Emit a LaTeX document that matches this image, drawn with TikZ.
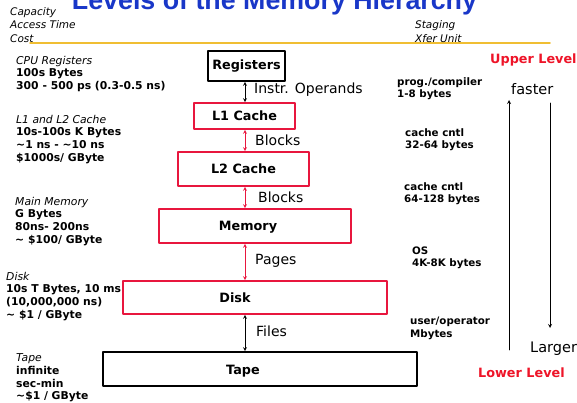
\documentclass[tikz,border=0pt]{standalone}
\usepackage{fontspec}
\setmainfont{DejaVu Sans}
\newfontfamily\titlefont{Liberation Sans}
\definecolor{boxred}{RGB}{232,22,62}
\definecolor{lvlred}{RGB}{238,20,40}
\definecolor{rulegold}{RGB}{240,190,50}
\definecolor{titleblue}{RGB}{25,55,200}
\begin{document}
\begin{tikzpicture}[line cap=round,line join=round,>=stealth,x=1pt,y=-1pt,
    lvlbox/.style={draw,line width=1.6pt,inner sep=0pt},
    boxtxt/.style={font=\fontsize{12.8}{14}\selectfont\bfseries},
    head/.style={anchor=north west,align=left,inner sep=0pt,font=\fontsize{10.5}{13.5}\selectfont\itshape},
    cost/.style={anchor=north west,align=left,inner sep=0pt,font=\fontsize{10.8}{12.6}\selectfont\bfseries},
    xfer/.style={anchor=north west,align=left,inner sep=0pt,font=\fontsize{10.3}{12.4}\selectfont\bfseries},
    link/.style={anchor=base west,inner sep=0pt,font=\fontsize{14}{16}\selectfont},
    lvl/.style={anchor=base west,inner sep=0pt,text=lvlred,font=\fontsize{12.8}{14}\selectfont\bfseries},
    arr/.style={<->,line width=0.8pt}]
  \useasboundingbox (0,0) rectangle (577,403);

  \node[anchor=base,inner sep=0pt,text=titleblue,font=\titlefont\bfseries\fontsize{26.8}{30}\selectfont] (title) at (274.5,10) {Levels of the Memory Hierarchy};
  \draw[rulegold,line width=1.8pt] (30,43.3) -- (550,43.3);
  \node[head] (colleft) at (10,7) {Capacity\\Access Time\\Cost};
  \node[head] (colright) at (415,20.5) {Staging\\Xfer Unit};

  % the levels
  \node[lvlbox,minimum width=77,minimum height=30,boxtxt] (regs) at (246.5,66) {Registers};
  \node[lvlbox,draw=boxred,minimum width=101,minimum height=26,boxtxt] (l1) at (244.5,116) {L1 Cache};
  \node[lvlbox,draw=boxred,minimum width=131,minimum height=34,boxtxt] (l2) at (243.5,169) {L2 Cache};
  \node[lvlbox,draw=boxred,minimum width=192,minimum height=34,label={[boxtxt,xshift=-7,yshift=-1.5]center:Memory}] (mem) at (255,226) {};
  \node[lvlbox,draw=boxred,minimum width=264,minimum height=33,label={[boxtxt,xshift=-20]center:Disk}] (disk) at (255,297.5) {};
  \node[lvlbox,minimum width=314,minimum height=34,label={[boxtxt,xshift=-17,yshift=-2]center:Tape}] (tape) at (260,369) {};

  \coordinate (spine) at (245,0);
  \draw[arr] (regs.south -| spine) -- (l1.north -| spine);
  \draw[arr,boxred] (l1.south -| spine) -- (l2.north -| spine);
  \draw[arr,boxred] (l2.south -| spine) -- (mem.north -| spine);
  \draw[arr,boxred] (mem.south -| spine) -- (disk.north -| spine);
  \draw[arr] (disk.south -| spine) -- (tape.north -| spine);

  \node[link] (opnd) at (254,94) {Instr. Operands};
  \node[link] (blk1) at (255,146) {Blocks};
  \node[link] (blk2) at (258,202) {Blocks};
  \node[link] (pages) at (255,264) {Pages};
  \node[link] (files) at (256,336) {Files};

  % capacity, access time, cost
  \node[cost] (cpu) at (16,55.8) {{\mdseries\itshape CPU Registers}\\100s Bytes\\300 - 500 ps (0.3-0.5 ns)};
  \node[cost] (cache) at (16,114.8) {{\mdseries\itshape L1 and L2 Cache}\\10s-100s K Bytes\\\textasciitilde1 ns - \textasciitilde10 ns\\\$1000s/ GByte};
  \node[cost] (main) at (15,196.8) {{\mdseries\itshape Main Memory}\\G Bytes\\80ns- 200ns\\\textasciitilde{} \$100/ GByte};
  \node[cost] (dsk) at (6,271.8) {{\mdseries\itshape Disk}\\10s T Bytes, 10 ms\\(10,000,000 ns)\\\textasciitilde{} \$1 / GByte};
  \node[cost] (tp) at (16,353.8) {{\mdseries\itshape Tape}\\infinite\\sec-min\\\textasciitilde\$1 / GByte};

  % staging / transfer unit
  \node[xfer] (prog) at (397,77.2) {prog./compiler\\1-8 bytes};
  \node[xfer] (cc1) at (405,128.2) {cache cntl\\32-64 bytes};
  \node[xfer] (cc2) at (404,182.2) {cache cntl\\64-128 bytes};
  \node[xfer] (os) at (412,246.5) {OS\\4K-8K bytes};
  \node[xfer] (user) at (410,317.2) {user/operator\\Mbytes};

  \node[lvl] (upper) at (490,64) {Upper Level};
  \node[lvl] (lower) at (478,377) {Lower Level};
  \node[link,font=\fontsize{14.5}{16}\selectfont] (faster) at (511,95) {faster};
  \node[link,font=\fontsize{14.5}{16}\selectfont] (larger) at (530,352) {Larger};
  \coordinate (fastbot) at (509,350);
  \coordinate (fasttop) at (509,100);
  \coordinate (largetop) at (550,103);
  \coordinate (largebot) at (550,328);
  \draw[->,line width=0.8pt] (fastbot) -- (fasttop);
  \draw[->,line width=0.8pt] (largetop) -- (largebot);
\end{tikzpicture}
\end{document}
